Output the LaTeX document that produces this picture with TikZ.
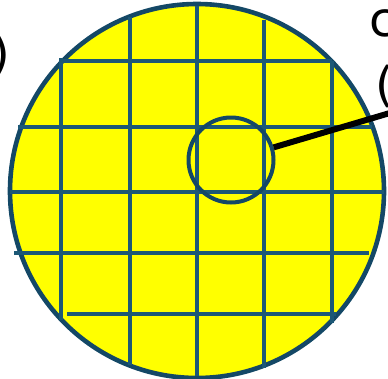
\documentclass[tikz,border=0pt]{standalone}
\usepackage{fontspec}
\setmainfont{DejaVu Sans}
\definecolor{rim}{RGB}{20,72,102}
\definecolor{gridc}{RGB}{28,88,118}
\definecolor{wafer}{RGB}{255,255,0}
\tikzset{
  gridline/.style={draw=gridc, line width=3.3pt},
  label/.style={inner sep=0pt, font=\fontsize{48}{56}\selectfont},
}
\begin{document}
\begin{tikzpicture}[x=1pt,y=-1pt]
\useasboundingbox (0,0) rectangle (388,378);
\node[circle, fill=wafer, draw=rim, line width=4.6pt, minimum size=374pt, inner sep=0pt] (wafer) at (197,191) {};
% horizontal grid lines
\draw[gridline] (63,61) -- (332,61);
\draw[gridline] (18,127) -- (372,127);
\draw[gridline] (10,192) -- (384,192);
\draw[gridline] (14,253) -- (369,253);
\draw[gridline] (67,314) -- (336,314);
% vertical grid lines
\draw[gridline] (61,58) -- (61,320);
\draw[gridline] (130,17) -- (130,365);
\draw[gridline] (197,6) -- (197,376);
\draw[gridline] (264,20) -- (264,368);
\draw[gridline] (332,61) -- (332,323);
\node[circle, draw=rim, line width=4pt, minimum size=85pt, inner sep=0pt] (lens) at (231,160) {};
\coordinate (tip) at (400,110);
\draw[black, line width=6pt] (lens) -- (tip);
\node[label, anchor=base west] (t1) at (369,36) {c};
\node[label, anchor=base west] (t2) at (375,101) {(};
\node[label, anchor=base east] (t3) at (10,70) {)};
\end{tikzpicture}
\end{document}
